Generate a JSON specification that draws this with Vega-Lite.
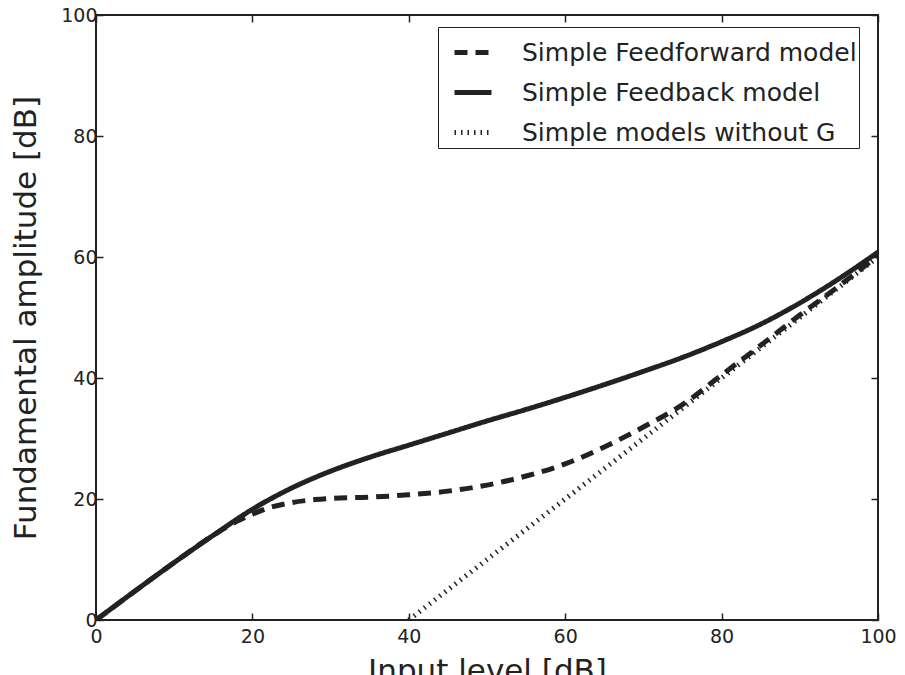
{
  "$schema": "https://vega.github.io/schema/vega-lite/v6.json",
  "width": 782,
  "height": 605,
  "autosize": {"type": "none"},
  "padding": {"left": 96, "top": 15, "right": 27, "bottom": 55},
  "background": "white",
  "config": {
    "font": "DejaVu Sans",
    "view": {"stroke": "#222", "strokeWidth": 2},
    "axis": {
      "domain": false,
      "grid": false,
      "tickSize": -7,
      "tickWidth": 1.5,
      "tickColor": "#222",
      "labelFlush": false,
      "labelFont": "DejaVu Sans",
      "labelFontSize": 19,
      "labelColor": "#222",
      "titleFont": "DejaVu Sans",
      "titleFontSize": 31,
      "titleFontWeight": "normal",
      "titleColor": "#222"
    }
  },
  "data": {
    "values": [
      {"series": "Simple Feedforward model", "x": 0, "y": 0},
      {"series": "Simple Feedforward model", "x": 5, "y": 4.8},
      {"series": "Simple Feedforward model", "x": 10, "y": 9.5},
      {"series": "Simple Feedforward model", "x": 15, "y": 14.0},
      {"series": "Simple Feedforward model", "x": 18, "y": 16.3},
      {"series": "Simple Feedforward model", "x": 20, "y": 17.5},
      {"series": "Simple Feedforward model", "x": 22, "y": 18.5},
      {"series": "Simple Feedforward model", "x": 25, "y": 19.4},
      {"series": "Simple Feedforward model", "x": 28, "y": 19.9},
      {"series": "Simple Feedforward model", "x": 30, "y": 20.1},
      {"series": "Simple Feedforward model", "x": 35, "y": 20.3},
      {"series": "Simple Feedforward model", "x": 40, "y": 20.7},
      {"series": "Simple Feedforward model", "x": 45, "y": 21.3},
      {"series": "Simple Feedforward model", "x": 50, "y": 22.3},
      {"series": "Simple Feedforward model", "x": 55, "y": 23.8},
      {"series": "Simple Feedforward model", "x": 60, "y": 25.8},
      {"series": "Simple Feedforward model", "x": 65, "y": 28.6},
      {"series": "Simple Feedforward model", "x": 70, "y": 31.9},
      {"series": "Simple Feedforward model", "x": 75, "y": 35.6},
      {"series": "Simple Feedforward model", "x": 80, "y": 40.5},
      {"series": "Simple Feedforward model", "x": 85, "y": 45.4},
      {"series": "Simple Feedforward model", "x": 90, "y": 50.4},
      {"series": "Simple Feedforward model", "x": 95, "y": 55.2},
      {"series": "Simple Feedforward model", "x": 100, "y": 60.2},
      {"series": "Simple Feedback model", "x": 0, "y": 0},
      {"series": "Simple Feedback model", "x": 5, "y": 4.8},
      {"series": "Simple Feedback model", "x": 10, "y": 9.5},
      {"series": "Simple Feedback model", "x": 15, "y": 14.0},
      {"series": "Simple Feedback model", "x": 20, "y": 18.3},
      {"series": "Simple Feedback model", "x": 25, "y": 21.8},
      {"series": "Simple Feedback model", "x": 30, "y": 24.6},
      {"series": "Simple Feedback model", "x": 35, "y": 26.9},
      {"series": "Simple Feedback model", "x": 40, "y": 28.9},
      {"series": "Simple Feedback model", "x": 45, "y": 30.9},
      {"series": "Simple Feedback model", "x": 50, "y": 32.9},
      {"series": "Simple Feedback model", "x": 55, "y": 34.8},
      {"series": "Simple Feedback model", "x": 60, "y": 36.8},
      {"series": "Simple Feedback model", "x": 65, "y": 38.9},
      {"series": "Simple Feedback model", "x": 70, "y": 41.1},
      {"series": "Simple Feedback model", "x": 75, "y": 43.4},
      {"series": "Simple Feedback model", "x": 80, "y": 46.0},
      {"series": "Simple Feedback model", "x": 85, "y": 48.9},
      {"series": "Simple Feedback model", "x": 90, "y": 52.4},
      {"series": "Simple Feedback model", "x": 95, "y": 56.4},
      {"series": "Simple Feedback model", "x": 100, "y": 60.8},
      {"series": "Simple models without G", "x": 40, "y": 0},
      {"series": "Simple models without G", "x": 100, "y": 60}
    ]
  },
  "layer": [
    {
      "mark": {"type": "line", "interpolate": "monotone", "strokeCap": "butt", "strokeJoin": "round", "clip": true, "color": "#222"},
      "encoding": {
        "x": {
          "field": "x", "type": "quantitative",
          "scale": {"domain": [0, 100], "nice": false, "zero": false},
          "axis": {"orient": "bottom", "values": [0, 20, 40, 60, 80, 100], "labelPadding": 14, "title": "Input level [dB]", "titleBaseline": "alphabetic", "titleY": 60}
        },
        "y": {
          "field": "y", "type": "quantitative",
          "scale": {"domain": [0, 100], "nice": false, "zero": false},
          "axis": {"orient": "left", "values": [0, 20, 40, 60, 80, 100], "labelPadding": 6, "title": "Fundamental amplitude [dB]", "titleBaseline": "alphabetic", "titleAngle": -90, "titleX": -61, "titleY": 302.5, "titleAlign": "center"}
        },
        "order": {"field": "x", "type": "quantitative"},
        "strokeDash": {
          "field": "series", "type": "nominal",
          "scale": {"domain": ["Simple Feedforward model", "Simple Feedback model", "Simple models without G"], "range": [[13, 8], [1, 0], [1.5, 5]]},
          "legend": {
            "orient": "none", "legendX": 342, "legendY": 12, "title": " ", "titleFontSize": 1, "titlePadding": 10,
            "symbolType": "stroke", "symbolSize": 1369, "symbolStrokeColor": "#222", "symbolOffset": 12, "clipHeight": 25,
            "labelFontSize": 25, "labelFont": "DejaVu Sans", "labelColor": "#222", "labelLimit": 600, "labelOffset": 28,
            "rowPadding": 14, "padding": 2, "strokeColor": "#222", "fillColor": "white", "cornerRadius": 0
          }
        },
        "strokeWidth": {
          "field": "series", "type": "nominal",
          "scale": {"domain": ["Simple Feedforward model", "Simple Feedback model", "Simple models without G"], "range": [5, 5, 1.5]},
          "legend": {
            "orient": "none", "legendX": 342, "legendY": 12, "title": " ", "titleFontSize": 1, "titlePadding": 10,
            "symbolType": "stroke", "symbolSize": 1369, "symbolStrokeColor": "#222", "symbolOffset": 12, "clipHeight": 25,
            "labelFontSize": 25, "labelFont": "DejaVu Sans", "labelColor": "#222", "labelLimit": 600, "labelOffset": 28,
            "rowPadding": 14, "padding": 2, "strokeColor": "#222", "fillColor": "white", "cornerRadius": 0
          }
        }
      }
    },
    {
      "mark": {"type": "point", "opacity": 0},
      "encoding": {
        "x": {
          "field": "x", "type": "quantitative",
          "axis": {"orient": "top", "values": [0, 20, 40, 60, 80, 100], "labels": false, "title": null}
        },
        "y": {
          "field": "y", "type": "quantitative",
          "axis": {"orient": "right", "values": [0, 20, 40, 60, 80, 100], "labels": false, "title": null}
        }
      }
    }
  ],
  "resolve": {"axis": {"x": "independent", "y": "independent"}}
}
